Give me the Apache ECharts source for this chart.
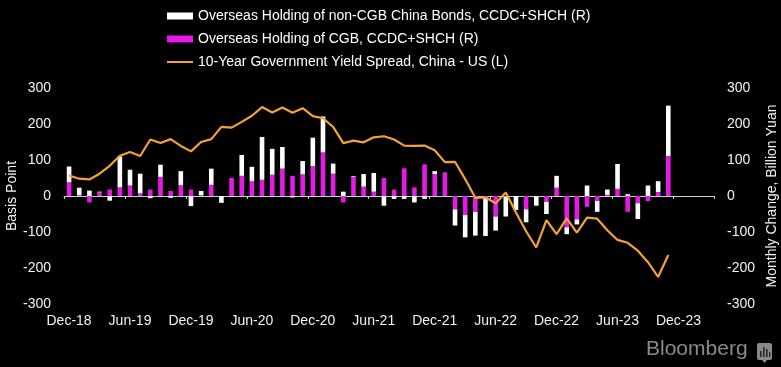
<!DOCTYPE html>
<html>
<head>
<meta charset="utf-8">
<script src="https://cdn.jsdelivr.net/npm/echarts@6/dist/echarts.min.js"></script>
<style>
html,body{margin:0;padding:0;background:#000;}
#chart{width:781px;height:367px;}
</style>
</head>
<body>
<div id="chart"></div>
<script>
// Monthly categories (Dec-18 .. Mar-24)
var months = [
  'Dec-18',
  'Jan-19','Feb-19','Mar-19','Apr-19','May-19','Jun-19','Jul-19','Aug-19','Sep-19','Oct-19','Nov-19','Dec-19',
  'Jan-20','Feb-20','Mar-20','Apr-20','May-20','Jun-20','Jul-20','Aug-20','Sep-20','Oct-20','Nov-20','Dec-20',
  'Jan-21','Feb-21','Mar-21','Apr-21','May-21','Jun-21','Jul-21','Aug-21','Sep-21','Oct-21','Nov-21','Dec-21',
  'Jan-22','Feb-22','Mar-22','Apr-22','May-22','Jun-22','Jul-22','Aug-22','Sep-22','Oct-22','Nov-22','Dec-22',
  'Jan-23','Feb-23','Mar-23','Apr-23','May-23','Jun-23','Jul-23','Aug-23','Sep-23','Oct-23','Nov-23','Dec-23',
  'Jan-24','Feb-24','Mar-24'
];

// Overseas Holding of CGB, monthly change (billion yuan, right axis)
var cgb = [
  38, 2, -18, 10, 18, 24, 29, 7, 18, 53, 14, 30,
  18, 2, 31, 0, 50, 56, 41, 45, 59, 76, 56, 60,
  83, 121, 62, -18, 53, 26, 12, 50, 18, 77, 24, 88,
  61, 66, -37, -53, -44, -3, -57, -2, 0, -37, -1, -16,
  23, -87, -65, -30, -14, 3, 20, -44, -20, -14, 11, 111
];

// Overseas Holding of non-CGB China Bonds, monthly change (billion yuan, right axis)
var nonCgb = [
  44, 21, 15, 2, -13, 86, 44, 55, -6, 34, -5, 39,
  -28, 12, 45, -19, -2, 58, 40, 119, 72, 60, -4, 37,
  79, 100, 28, 12, 2, 35, 52, -27, -8, -8, -18, -8,
  8, 0, -45, -62, -66, -108, -39, -55, -39, -36, -26, -34,
  33, -19, -14, 29, -30, 15, 69, 5, -44, 29, 30, 140
];

// 10-Year Government Yield Spread, China - US (basis points, left axis)
var spread = [
  57, 48, 46, 62, 84, 112, 122, 111, 157, 147, 158, 139,
  124, 150, 158, 192, 190, 206, 223, 247, 232, 246, 231, 244,
  222, 216, 192, 147, 154, 149, 163, 166, 157, 140, 139, 140,
  127, 94, 95, 47, -5, -4, -20, 10, -46, -98, -143, -67,
  -106, -62, -102, -60, -63, -95, -122, -130, -152, -184, -225, -164
];

var names = {
  non: 'Overseas Holding of non-CGB China Bonds, CCDC+SHCH (R)',
  cgb: 'Overseas Holding of CGB, CCDC+SHCH (R)',
  spread: '10-Year Government Yield Spread, China - US (L)'
};

var FONT = "'Liberation Sans', Arial, sans-serif";
var TXT = '#f2f2f2';
var AXIS = '#cfcfcf';
var MAGENTA = '#e619e6';
var ORANGE = '#f4a233';

var chart = echarts.init(document.getElementById('chart'), null, {renderer: 'canvas'});

var option = {
  backgroundColor: '#000000',
  animation: false,
  textStyle: {fontFamily: FONT},
  legend: {
    orient: 'vertical',
    left: 161,
    top: 3,
    padding: 5,
    itemWidth: 26,
    itemHeight: 7,
    itemGap: 7,
    textStyle: {color: '#ffffff', fontSize: 14, lineHeight: 16, fontFamily: FONT},
    data: [
      {name: names.non, icon: 'rect'},
      {name: names.cgb, icon: 'rect'},
      {name: names.spread, itemStyle: {color: 'rgba(0,0,0,0)', opacity: 0}}
    ]
  },
  grid: {left: 64, right: 67, top: 88, bottom: 63, containLabel: false, outerBoundsMode: 'none'},
  xAxis: [
    {
      type: 'category',
      data: months,
      boundaryGap: true,
      axisLine: {show: true, onZero: true, onZeroAxisIndex: 1, lineStyle: {color: AXIS, width: 1}},
      axisTick: {show: true, interval: 5, length: 3, lineStyle: {color: AXIS}},
      axisLabel: {show: false},
      splitLine: {show: false}
    },
    {
      type: 'category',
      data: months,
      position: 'bottom',
      boundaryGap: true,
      axisLine: {show: false, onZero: false},
      axisTick: {show: false},
      axisLabel: {show: true, interval: 5, margin: 10, color: TXT, fontSize: 14, fontFamily: FONT},
      splitLine: {show: false}
    }
  ],
  yAxis: [
    {
      type: 'value',
      position: 'left',
      min: -300, max: 300, interval: 100,
      name: 'Basis Point',
      nameLocation: 'middle',
      nameRotate: 90,
      nameGap: 45,
      nameMoveOverlap: false,
      nameTextStyle: {color: TXT, fontSize: 14, fontFamily: FONT},
      axisLine: {show: false},
      axisTick: {show: false},
      splitLine: {show: false},
      axisLabel: {color: TXT, fontSize: 14, margin: 13, fontFamily: FONT}
    },
    {
      type: 'value',
      position: 'right',
      min: -300, max: 300, interval: 100,
      name: 'Monthly Change, Billion Yuan',
      nameLocation: 'middle',
      nameRotate: 90,
      nameGap: 51,
      nameMoveOverlap: false,
      nameTextStyle: {color: TXT, fontSize: 14, fontFamily: FONT},
      axisLine: {show: false},
      axisTick: {show: false},
      splitLine: {show: false},
      axisLabel: {color: TXT, fontSize: 14, margin: 13, align: 'left', fontFamily: FONT}
    }
  ],
  series: [
    {
      name: names.cgb,
      type: 'bar',
      stack: 'hold',
      xAxisIndex: 0,
      yAxisIndex: 1,
      barWidth: 4.6,
      itemStyle: {color: MAGENTA},
      data: cgb
    },
    {
      name: names.non,
      type: 'bar',
      stack: 'hold',
      xAxisIndex: 0,
      yAxisIndex: 1,
      barWidth: 4.6,
      itemStyle: {color: '#ffffff'},
      data: nonCgb
    },
    {
      name: names.spread,
      type: 'line',
      xAxisIndex: 0,
      yAxisIndex: 0,
      symbol: 'none',
      lineStyle: {color: ORANGE, width: 2.2},
      itemStyle: {color: ORANGE},
      data: spread
    }
  ],
  graphic: [
    {
      type: 'text',
      left: 646,
      top: 339,
      style: {text: 'Bloomberg', fill: '#8a8a8a', font: "21px 'Liberation Sans', Arial, sans-serif"}
    },
    {
      type: 'group',
      left: 757,
      top: 343,
      children: [
        {type: 'rect', shape: {x: 0, y: 0, width: 15, height: 17, r: 2}, style: {fill: '#8a8a8a'}},
        {type: 'polygon', shape: {points: [[5, 17], [10, 17], [7.5, 20]]}, style: {fill: '#8a8a8a'}},
        {type: 'rect', shape: {x: 3, y: 8, width: 1.6, height: 6}, style: {fill: '#2a2a2a'}},
        {type: 'rect', shape: {x: 6, y: 4, width: 1.6, height: 10}, style: {fill: '#2a2a2a'}},
        {type: 'rect', shape: {x: 9, y: 6, width: 1.6, height: 8}, style: {fill: '#2a2a2a'}},
        {type: 'rect', shape: {x: 12, y: 9, width: 1.3, height: 5}, style: {fill: '#2a2a2a'}}
      ]
    }
  ]
};

chart.setOption(option);
</script>
</body>
</html>
